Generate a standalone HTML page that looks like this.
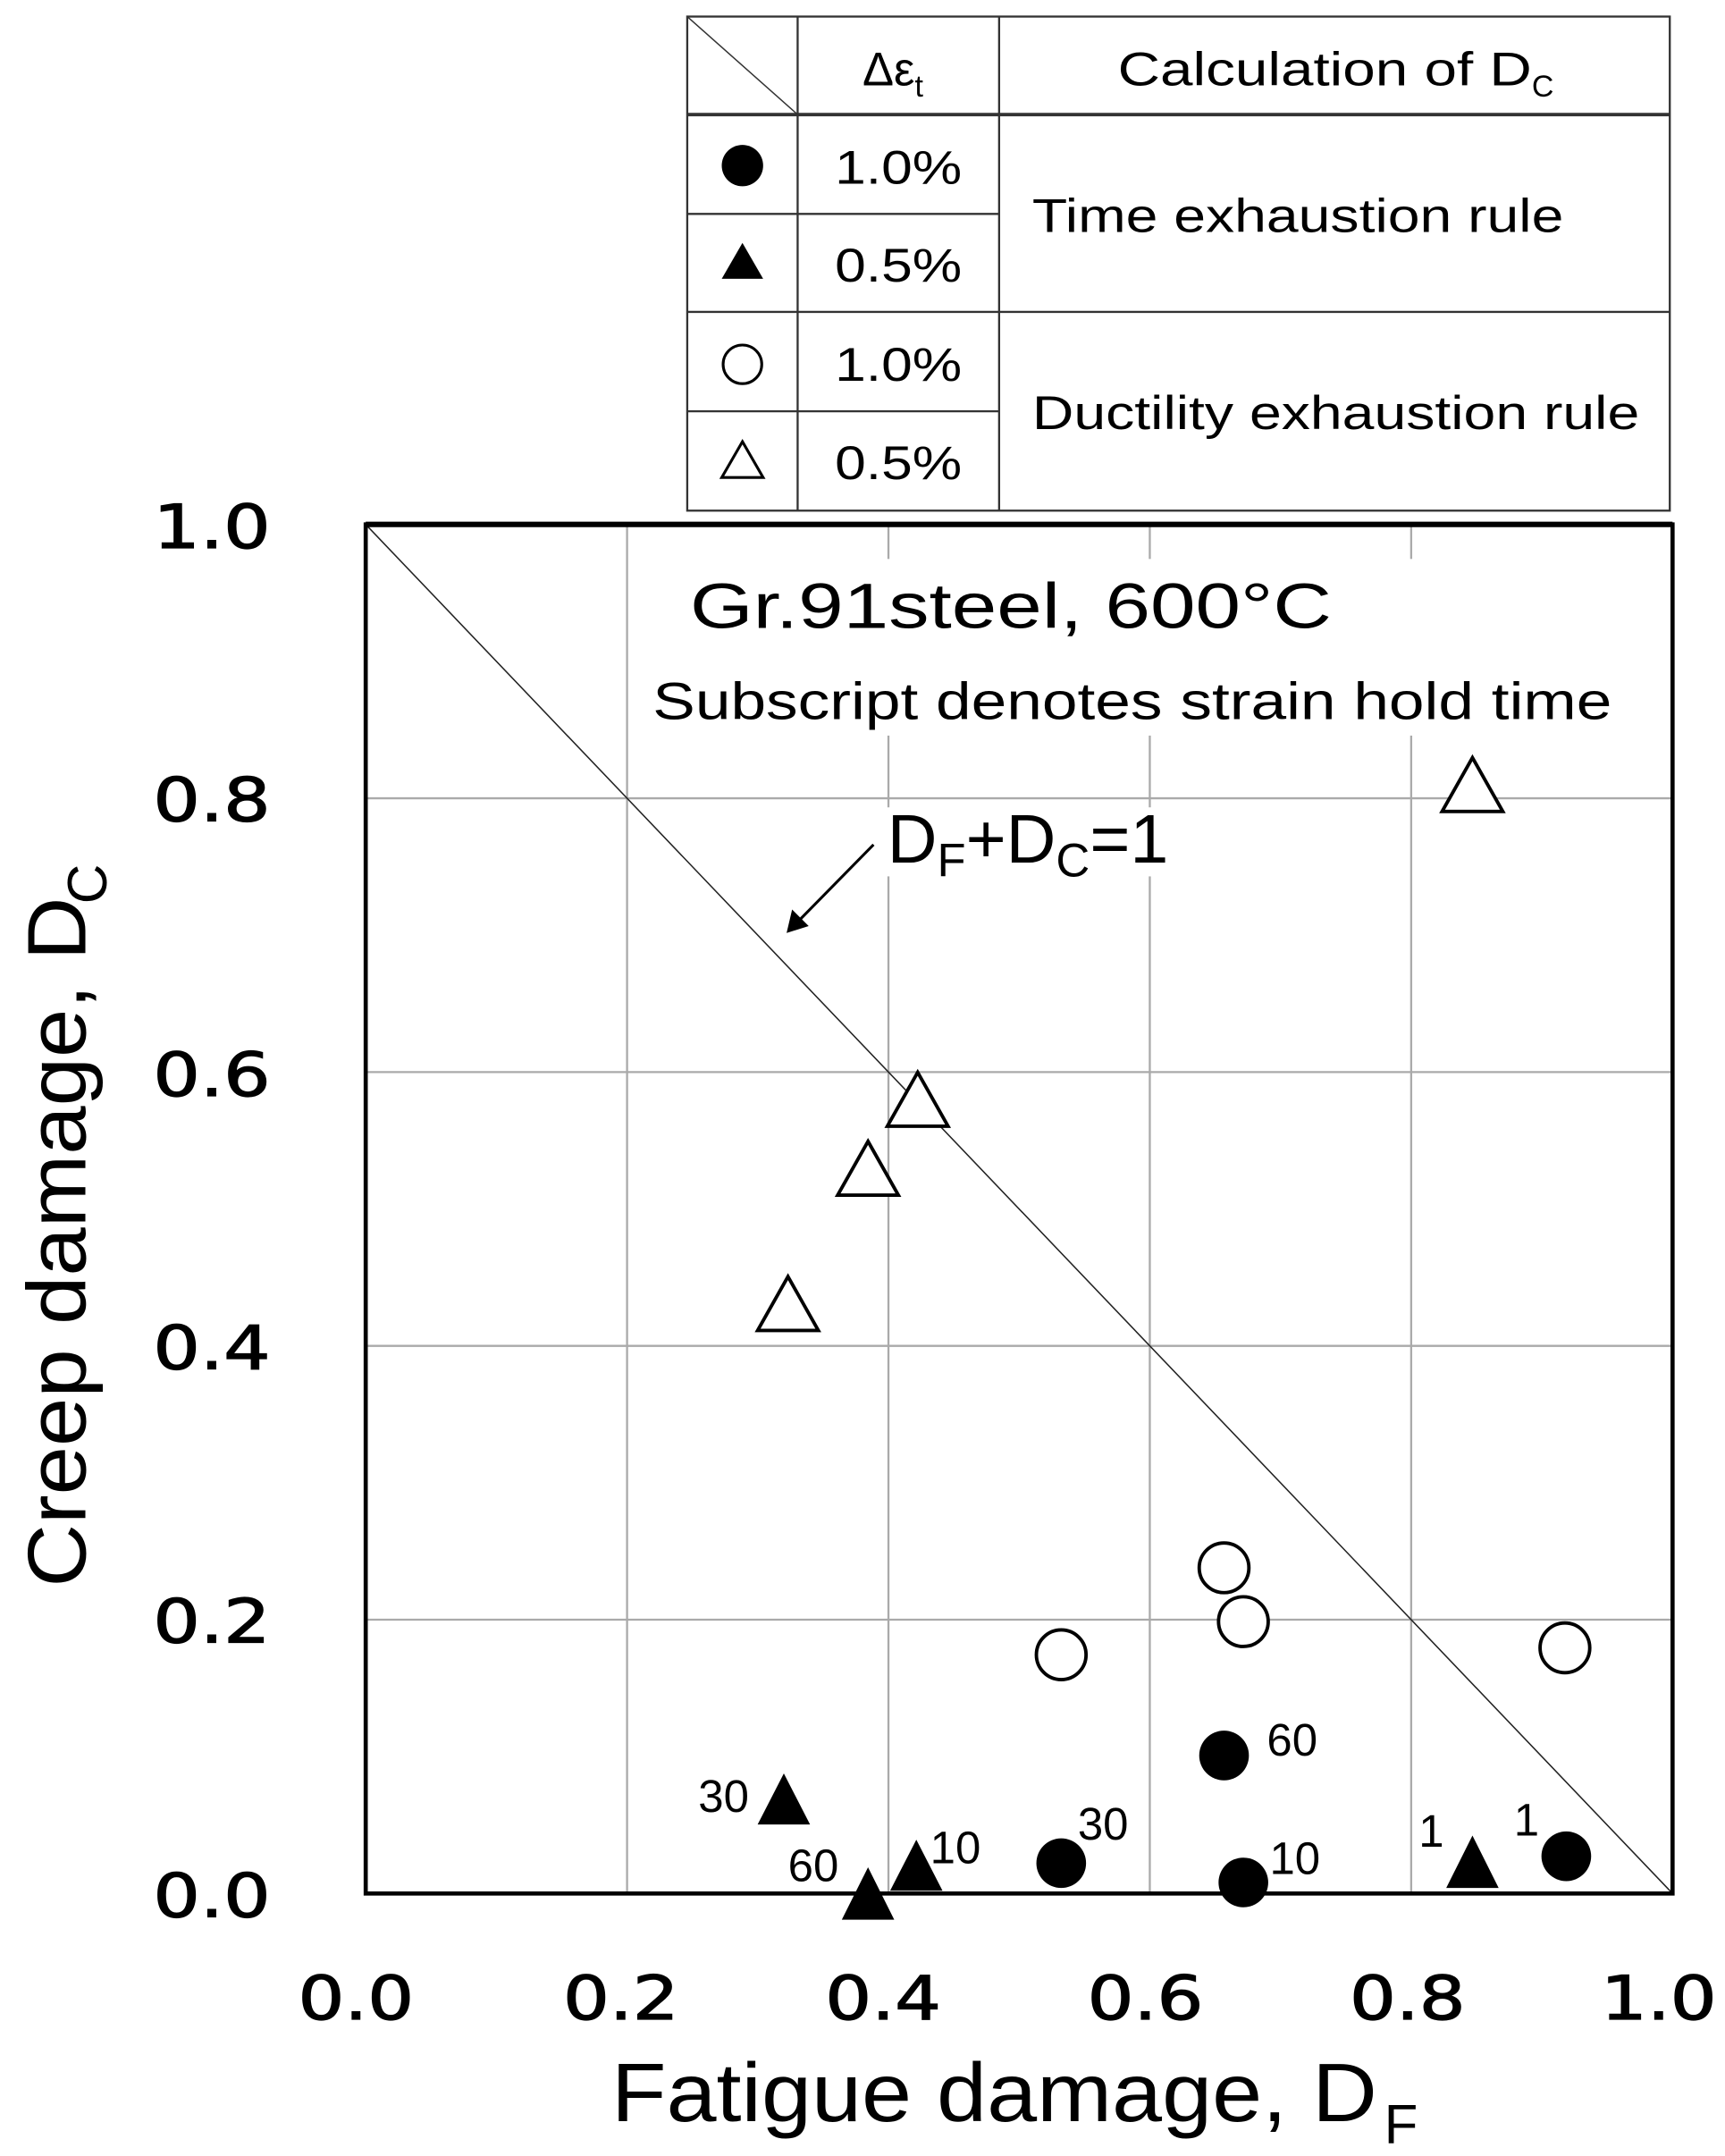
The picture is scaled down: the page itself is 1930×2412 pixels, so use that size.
<!DOCTYPE html>
<html><head><style>html,body{margin:0;padding:0;background:#fff}svg{display:block}</style></head>
<body>
<svg width="1930" height="2412" viewBox="0 0 1250 1562.2" xmlns="http://www.w3.org/2000/svg" font-family="Liberation Sans, Arial, sans-serif">
<rect width="1250" height="1562.2" fill="#fff"/>
<g stroke="#333" stroke-width="1.5" fill="none">
<rect x="498" y="12" width="712" height="358"/>
<line x1="578" y1="12" x2="578" y2="370"/>
<line x1="724" y1="12" x2="724" y2="370"/>
<line x1="498" y1="83" x2="1210" y2="83" stroke-width="2.5"/>
<line x1="498" y1="155" x2="724" y2="155"/>
<line x1="498" y1="226" x2="1210" y2="226"/>
<line x1="498" y1="298" x2="724" y2="298"/>
<line x1="498" y1="12" x2="578" y2="83" stroke-width="1"/>
</g>
<g font-size="34" fill="#000">
<text x="625" y="62">Δε<tspan font-size="22" dy="8">t</tspan></text>
<text x="810" y="62" textLength="300" lengthAdjust="spacingAndGlyphs">Calculation of D</text>
<text x="1110" y="70" font-size="22">C</text>
<text x="605" y="133" textLength="92" lengthAdjust="spacingAndGlyphs">1.0%</text>
<text x="605" y="204" textLength="92" lengthAdjust="spacingAndGlyphs">0.5%</text>
<text x="605" y="276" textLength="92" lengthAdjust="spacingAndGlyphs">1.0%</text>
<text x="605" y="347" textLength="92" lengthAdjust="spacingAndGlyphs">0.5%</text>
<text x="748" y="168" textLength="385" lengthAdjust="spacingAndGlyphs">Time exhaustion rule</text>
<text x="748" y="311" textLength="440" lengthAdjust="spacingAndGlyphs">Ductility exhaustion rule</text>
</g>
<circle cx="538" cy="120" r="15" fill="#000"/>
<polygon points="538,176 553,202 523,202" fill="#000"/>
<circle cx="538" cy="264" r="14" fill="none" stroke="#000" stroke-width="2"/>
<polygon points="538,320 553,346 523,346" fill="none" stroke="#000" stroke-width="2"/>
<g stroke="#aaa" stroke-width="1.5">
<line x1="454.4" y1="380" x2="454.4" y2="1372"/>
<line x1="643.8" y1="380" x2="643.8" y2="1372"/>
<line x1="833.2" y1="380" x2="833.2" y2="1372"/>
<line x1="1022.6" y1="380" x2="1022.6" y2="1372"/>
<line x1="265" y1="1173.6" x2="1212" y2="1173.6"/>
<line x1="265" y1="975.2" x2="1212" y2="975.2"/>
<line x1="265" y1="776.8" x2="1212" y2="776.8"/>
<line x1="265" y1="578.4" x2="1212" y2="578.4"/>
</g>
<rect x="470" y="405" width="705" height="128" fill="#fff"/>
<rect x="635" y="585" width="250" height="50" fill="#fff"/>
<line x1="265" y1="380" x2="1212" y2="1372" stroke="#222" stroke-width="1"/>
<rect x="265" y="380" width="947" height="992" fill="none" stroke="#000" stroke-width="3"/>
<line x1="265" y1="380" x2="1212" y2="380" stroke="#000" stroke-width="4"/>
<text x="500" y="455" font-size="46" textLength="465" lengthAdjust="spacingAndGlyphs">Gr.91steel, 600°C</text>
<text x="473" y="521" font-size="38" textLength="695" lengthAdjust="spacingAndGlyphs">Subscript denotes strain hold time</text>
<text x="643" y="625" font-size="50">D<tspan font-size="34" dy="10">F</tspan><tspan dy="-10">+D</tspan><tspan font-size="34" dy="10">C</tspan><tspan dy="-10">=1</tspan></text>
<line x1="633" y1="612" x2="578" y2="668" stroke="#000" stroke-width="2"/>
<polygon points="570,676 574,659 586,671" fill="#000"/>
<g font-size="44" fill="#000" font-family="DejaVu Sans, sans-serif" stroke="#000" stroke-width="0.8">
<text x="111" y="397" textLength="85" lengthAdjust="spacingAndGlyphs">1.0</text>
<text x="111" y="595" textLength="85" lengthAdjust="spacingAndGlyphs">0.8</text>
<text x="111" y="794" textLength="85" lengthAdjust="spacingAndGlyphs">0.6</text>
<text x="111" y="992" textLength="85" lengthAdjust="spacingAndGlyphs">0.4</text>
<text x="111" y="1190" textLength="85" lengthAdjust="spacingAndGlyphs">0.2</text>
<text x="111" y="1389" textLength="85" lengthAdjust="spacingAndGlyphs">0.0</text>
<text x="216" y="1463" textLength="84" lengthAdjust="spacingAndGlyphs">0.0</text>
<text x="408" y="1463" textLength="84" lengthAdjust="spacingAndGlyphs">0.2</text>
<text x="598" y="1463" textLength="84" lengthAdjust="spacingAndGlyphs">0.4</text>
<text x="788" y="1463" textLength="84" lengthAdjust="spacingAndGlyphs">0.6</text>
<text x="978" y="1463" textLength="84" lengthAdjust="spacingAndGlyphs">0.8</text>
<text x="1160" y="1463" textLength="84" lengthAdjust="spacingAndGlyphs">1.0</text>
</g>
<text x="443" y="1537" font-size="60" textLength="555" lengthAdjust="spacingAndGlyphs">Fatigue damage, D</text>
<text x="1003" y="1553" font-size="40">F</text>
<text transform="translate(62,1150) rotate(-90)" font-size="60" textLength="500" lengthAdjust="spacingAndGlyphs">Creep damage, D</text>
<text transform="translate(77,655) rotate(-90)" font-size="40">C</text>
<g fill="#fff" stroke="#000" stroke-width="2.5">
<polygon points="1067,549 1089,588 1045,588"/>
<polygon points="665,777 687,816 643,816"/>
<polygon points="629,827 651,866 607,866"/>
<polygon points="571,925 593,964 549,964"/>
<circle cx="887" cy="1136" r="18"/>
<circle cx="901" cy="1175" r="18"/>
<circle cx="769" cy="1199" r="18"/>
<circle cx="1134" cy="1194" r="18"/>
</g>
<g fill="#000">
<circle cx="887" cy="1272" r="18"/>
<circle cx="769" cy="1350" r="18"/>
<circle cx="901" cy="1364" r="18"/>
<circle cx="1135" cy="1345" r="18"/>
<polygon points="568,1285 587,1322 549,1322"/>
<polygon points="629,1353 648,1391 610,1391"/>
<polygon points="664,1333 683,1370 645,1370"/>
<polygon points="1067,1330 1086,1368 1048,1368"/>
</g>
<g font-size="33" fill="#000">
<text x="918" y="1272">60</text>
<text x="781" y="1333">30</text>
<text x="920" y="1358">10</text>
<text x="1097" y="1330">1</text>
<text x="1028" y="1338">1</text>
<text x="506" y="1313">30</text>
<text x="571" y="1363">60</text>
<text x="674" y="1350">10</text>
</g>
</svg>
</body></html>
